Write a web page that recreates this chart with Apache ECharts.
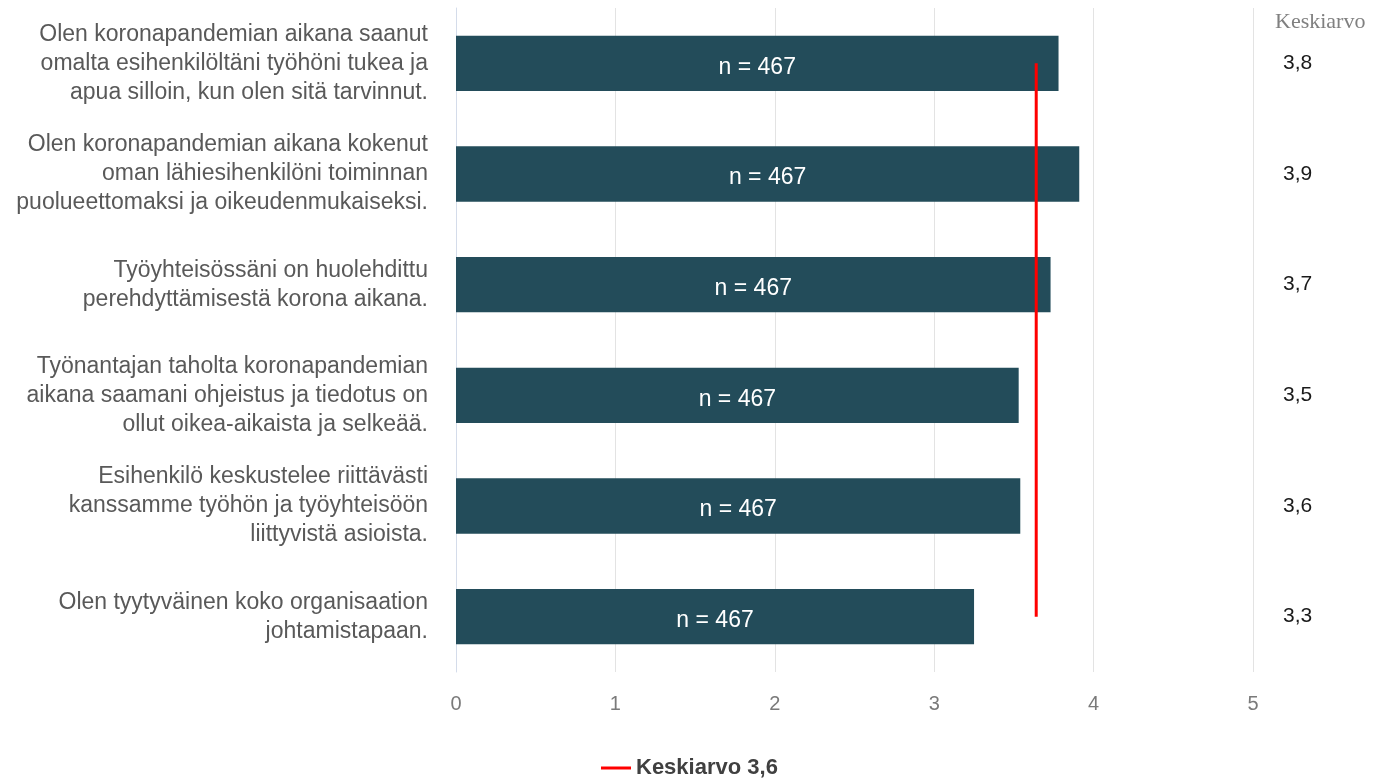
<!DOCTYPE html>
<html>
<head>
<meta charset="utf-8">
<script src="https://cdn.jsdelivr.net/npm/echarts@6/dist/echarts.min.js"></script>
<style>
    html, body { margin: 0; padding: 0; background: #fff; }
    #chart { width: 1381px; height: 778px; }
</style>
</head>
<body>
<div id="chart"></div>
<script>
var categories = [
    'Olen koronapandemian aikana saanut\nomalta esihenkilöltäni työhöni tukea ja\napua silloin, kun olen sitä tarvinnut.',
    'Olen koronapandemian aikana kokenut\noman lähiesihenkilöni toiminnan\npuolueettomaksi ja oikeudenmukaiseksi.',
    'Työyhteisössäni on huolehdittu\nperehdyttämisestä korona aikana.',
    'Työnantajan taholta koronapandemian\naikana saamani ohjeistus ja tiedotus on\nollut oikea-aikaista ja selkeää.',
    'Esihenkilö keskustelee riittävästi\nkanssamme työhön ja työyhteisöön\nliittyvistä asioista.',
    'Olen tyytyväinen koko organisaation\njohtamistapaan.'
];
var barValues = [3.78, 3.91, 3.73, 3.53, 3.54, 3.25];
var nLabels = ['n = 467', 'n = 467', 'n = 467', 'n = 467', 'n = 467', 'n = 467'];
var meanLabels = ['3,8', '3,9', '3,7', '3,5', '3,6', '3,3'];
var overallMean = [3.64, 3.64, 3.64, 3.64, 3.64, 3.64];
var xTicks = [0, 1, 2, 3, 4, 5];

var myChart = echarts.init(document.getElementById('chart'));

var option = {
    animation: false,
    title: {
        text: 'Keskiarvo',
        left: 1270,
        top: 6,
        textStyle: {
            fontFamily: 'Liberation Serif',
            fontWeight: 'normal',
            fontSize: 22,
            color: '#808080'
        }
    },
    legend: {
        top: 752,
        left: 596,
        itemWidth: 30,
        itemHeight: 3,
        itemGap: 10,
        textStyle: {
            fontFamily: 'Liberation Sans',
            fontSize: 22,
            fontWeight: 'bold',
            color: '#404040'
        },
        data: [{ name: 'Keskiarvo 3,6', icon: 'rect' }]
    },
    grid: {
        left: 456,
        right: 128,
        top: 8,
        bottom: 106
    },
    xAxis: {
        type: 'value',
        min: 0,
        max: 5,
        interval: 1,
        axisLine: { show: false },
        axisTick: { show: false },
        splitLine: { lineStyle: { color: '#e3e3e3', width: 1 } },
        axisLabel: {
            margin: 22,
            fontFamily: 'Liberation Sans',
            fontSize: 20,
            color: '#7a7a7a',
            formatter: function (v) { return xTicks.indexOf(v) >= 0 ? String(v) : ''; }
        }
    },
    yAxis: [{
        type: 'category',
        inverse: true,
        data: categories,
        axisLine: { show: true, lineStyle: { color: '#d4dcea' } },
        axisTick: { show: false },
        axisLabel: {
            margin: 28,
            align: 'right',
            fontFamily: 'Liberation Sans',
            fontSize: 23,
            lineHeight: 29,
            color: '#595959'
        }
    }, {
        type: 'category',
        inverse: true,
        position: 'right',
        data: meanLabels,
        axisLine: { show: false },
        axisTick: { show: false },
        axisLabel: {
            margin: 30,
            fontFamily: 'Liberation Sans',
            fontSize: 21,
            color: '#1a1a1a'
        }
    }],
    series: [{
        name: 'Keskiarvo',
        type: 'bar',
        yAxisIndex: 0,
        barWidth: '50%',
        itemStyle: { color: '#234c5a' },
        label: {
            show: true,
            position: 'inside',
            offset: [0, 4],
            fontFamily: 'Liberation Sans',
            fontSize: 23,
            color: '#ffffff',
            formatter: function (p) { return nLabels[p.dataIndex]; }
        },
        data: barValues
    }, {
        name: 'Keskiarvo 3,6',
        type: 'line',
        yAxisIndex: 0,
        symbol: 'none',
        color: '#ff0000',
        lineStyle: { color: '#ff0000', width: 3 },
        data: overallMean
    }]
};

myChart.setOption(option);
</script>
</body>
</html>
